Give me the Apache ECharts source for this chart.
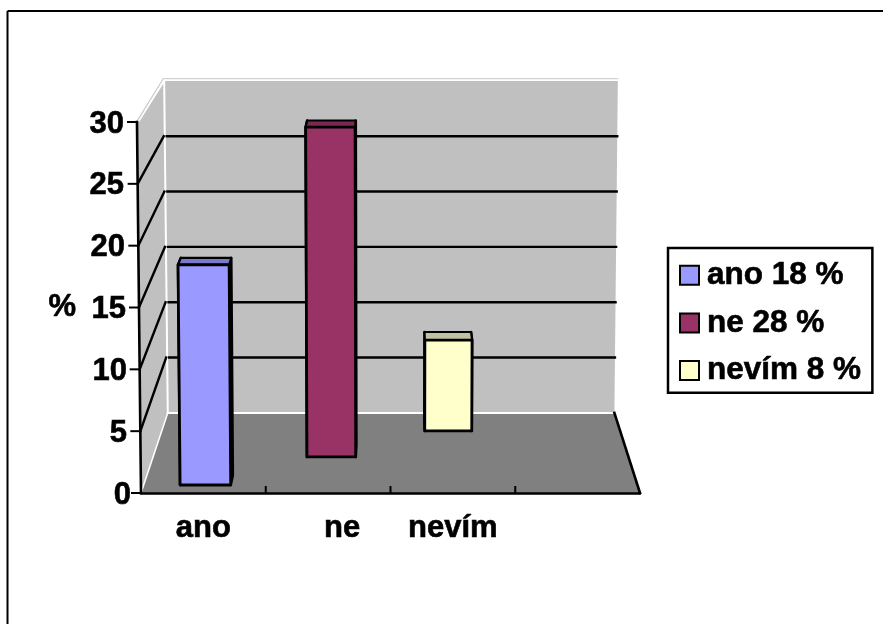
<!DOCTYPE html>
<html>
<head>
<meta charset="utf-8">
<style>html,body{margin:0;padding:0;background:#fff}#chart{width:883px;height:624px}</style>
<script src="https://cdn.jsdelivr.net/npm/echarts@6/dist/echarts.min.js"></script>
</head>
<body>
<div id="chart"></div>
<script>
// Survey answers, in percent
const categories = ['ano', 'ne', 'nevím', ''];
const values = [18, 28, 8];
const legendNames = ['ano 18 %', 'ne 28 %', 'nevím 8 %'];
const yTicks = [0, 5, 10, 15, 20, 25, 30];

const faceColors = ['#9999FF', '#993366', '#FFFFCC'];
const topColors = ['#7A7ACC', '#7A2952', '#C2C2A3'];
const sideColors = ['#3D3D66', '#5C1F3D', '#99997A'];
// Each answer stands in its own row on the floor: 0 = front edge, 1 = back wall
const rowDepth = [[0.1, 0.22], [0.45, 0.6], [0.775, 0.89]];
const barShare = 0.41;

// Camera used to project the front plane into the box
const VANISH_X = 396, VANISH_Y = -270, DEPTH_SHRINK = 0.105, TILT = 0.0158;
const FONT = '"Liberation Sans", Arial, sans-serif';
const TEXT_BASE = {
  fontFamily: FONT, fontWeight: 'bold', fontSize: 31, color: '#000',
  textBorderColor: '#000', textBorderWidth: 0.6
};

function makeProjector(api) {
  const base = api.coord([0, 0])[1];
  const span = base - api.coord([0, 30])[1];
  return function (x, v, t) {
    const y = api.coord([0, v])[1];
    const lean = 1 + TILT * (base - y) / span;
    const k = 1 - DEPTH_SHRINK * t;
    return [VANISH_X + (x - VANISH_X) * lean * k, VANISH_Y + (y - VANISH_Y) * k];
  };
}

function poly(points, fill, stroke, width) {
  return {
    type: 'polygon',
    shape: { points },
    style: { fill, stroke: stroke || null, lineWidth: width || 0, lineJoin: 'round' }
  };
}
function seg(a, b, stroke, width) {
  return {
    type: 'line',
    shape: { x1: a[0], y1: a[1], x2: b[0], y2: b[1] },
    style: { stroke, lineWidth: width, lineCap: 'square' }
  };
}

// Walls, floor, gridlines and the slanted value axis
function renderBox(params, api) {
  const p = makeProjector(api);
  const xL = api.coord([0, 0])[0] - api.size([1, 0])[0] / 2;
  const xR = xL + api.size([1, 0])[0] * categories.length;
  const kids = [];
  const fl = p(xL, 0, 0), fr = p(xR, 0, 0), bl = p(xL, 0, 1), br = p(xR, 0, 1);
  const tl = p(xL, 30, 1), tr = p(xR, 30, 1), ft = p(xL, 30, 0);

  kids.push(poly([bl, tl, tr, br], '#C0C0C0'));
  kids.push(poly([fl, ft, tl, bl], '#C0C0C0'));
  kids.push(poly([fl, bl, br, fr], '#808080'));

  // Pale edges of the box
  kids.push(seg([tl[0] - 1, tl[1] - 2], [tr[0], tr[1] - 2], '#BDBDBD', 1));
  kids.push(seg([ft[0], ft[1] - 1], [tl[0] - 1, tl[1] - 2], '#BDBDBD', 1));
  kids.push(seg([ft[0] + 2, ft[1] - 1], [tl[0] + 0.5, tl[1] - 0.5], '#FFFFFF', 1.5));
  kids.push(seg([tl[0], tl[1] - 0.5], [tr[0], tr[1] - 0.5], '#FFFFFF', 1.5));
  kids.push(seg(tl, bl, '#FFFFFF', 2));
  kids.push(seg(bl, br, '#FFFFFF', 2));
  kids.push(seg(fl, bl, '#FFFFFF', 1.5));

  yTicks.forEach(function (v) {
    const front = p(xL, v, 0), back = p(xL, v, 1), right = p(xR, v, 1);
    // outward tick on the slanted axis
    kids.push(seg([front[0] - 9, front[1]], front, '#000', 2));
    if (v > 0 && v < 30) {
      kids.push(seg(front, [back[0] - 1, back[1]], '#000', 2.4));
      kids.push(seg([back[0] + 2, back[1]], right, '#000', 2.4));
    }
  });
  kids.push(seg(ft, fl, '#000', 2.6));
  kids.push(seg(br, fr, '#000', 2.6));
  return { type: 'group', children: kids };
}

// One box-shaped column, standing in the row given by its depth range
function renderColumn(index) {
  return function (params, api) {
    const p = makeProjector(api);
    const c = api.coord([api.value(0), 0])[0];
    const half = api.size([1, 0])[0] * barShare / 2;
    const v = api.value(1);
    const t0 = rowDepth[index][0], t1 = rowDepth[index][1];
    const x0 = c - half, x1 = c + half;
    const bf0 = p(x0, 0, t0), bf1 = p(x1, 0, t0), tf0 = p(x0, v, t0), tf1 = p(x1, v, t0);
    const bb0 = p(x0, 0, t1), bb1 = p(x1, 0, t1), tb0 = p(x0, v, t1), tb1 = p(x1, v, t1);
    return {
      type: 'group',
      children: [
        poly([bf0, tf0, tb0, bb0], sideColors[index], '#000', 2.6),
        poly([bf1, tf1, tb1, bb1], sideColors[index], '#000', 2.6),
        poly([tf0, tb0, tb1, tf1], topColors[index], '#000', 2.2),
        poly([bf0, tf0, tf1, bf1], faceColors[index], '#000', 2.8)
      ]
    };
  };
}

// The value labels follow the axis slant, so each one gets its own right padding
const labelPad = { 0: 1, 5: 5, 10: 5, 15: 6, 20: 7, 25: 8, 30: 8 };
const labelRich = {};
yTicks.forEach(function (v) {
  labelRich['v' + v] = Object.assign({}, TEXT_BASE, { padding: [4, labelPad[v], 0, 0] });
});

// Nearer rows are drawn over farther ones
const columnSeries = values.map(function (val, i) {
  return {
    type: 'custom',
    name: legendNames[i],
    z: 2 + values.length - i,
    renderItem: renderColumn(i),
    encode: { x: 0, y: 1 },
    itemStyle: { color: faceColors[i], borderColor: '#000', borderWidth: 2.5 },
    data: [[i, val]]
  };
});

const chart = echarts.init(document.getElementById('chart'), null, { renderer: 'canvas' });
chart.setOption({
  animation: false,
  backgroundColor: '#fff',
  grid: { left: 141, right: 243, top: 122, bottom: 131, containLabel: false },
  xAxis: {
    type: 'category',
    z: 10,
    data: categories.map(function (c, i) {
      return i === 1 ? { value: c, textStyle: { padding: [0, 0, 0, 28] } } : c;
    }),
    boundaryGap: true,
    axisLine: { show: true, lineStyle: { color: '#000', width: 2.6 } },
    axisTick: { show: true, inside: false, length: 0, lineStyle: { color: '#000', width: 2 } },
    axisLabel: Object.assign({ interval: 0, margin: 20 }, TEXT_BASE),
    splitLine: { show: false }
  },
  yAxis: {
    type: 'value',
    min: 0,
    max: 30,
    interval: 5,
    name: '%',
    nameLocation: 'middle',
    nameRotate: 0,
    nameGap: 65,
    nameTextStyle: Object.assign({ padding: [6, 0, 0, 0] }, TEXT_BASE),
    axisLine: { show: false },
    axisTick: { show: false },
    splitLine: { show: false },
    axisLabel: {
      margin: 9,
      formatter: function (v) { return '{v' + v + '|' + v + '}'; },
      rich: labelRich
    }
  },
  legend: {
    orient: 'vertical',
    left: 668,
    top: 248,
    padding: [11, 11, 6, 11],
    itemWidth: 19,
    itemHeight: 19,
    itemGap: 15,
    icon: 'rect',
    borderColor: '#000',
    borderWidth: 2.5,
    backgroundColor: '#fff',
    selectedMode: false,
    data: legendNames,
    textStyle: Object.assign({}, TEXT_BASE, { fontSize: 31.5, padding: [0, 0, 0, 3] })
  },
  graphic: [
    { type: 'line', shape: { x1: 7.5, y1: 11, x2: 883, y2: 11 }, style: { stroke: '#000', lineWidth: 2 } },
    { type: 'line', shape: { x1: 7.5, y1: 11, x2: 7.5, y2: 624 }, style: { stroke: '#000', lineWidth: 2 } }
  ],
  series: [
    {
      type: 'custom',
      name: 'box',
      z: 1,
      silent: true,
      renderItem: renderBox,
      encode: { x: 0, y: 1 },
      data: [[0, 0]]
    },
    // Short inward ticks along the front edge of the floor
    {
      type: 'custom',
      name: 'floor ticks',
      z: 9,
      silent: true,
      renderItem: function (params, api) {
        const band = api.size([1, 0])[0];
        const at = api.coord([api.value(0), 0]);
        return seg([at[0] + band / 2, at[1]], [at[0] + band / 2, at[1] - 6], '#000', 2);
      },
      encode: { x: 0, y: 1 },
      data: [[0, 0], [1, 0], [2, 0]]
    }
  ].concat(columnSeries)
});
</script>
</body>
</html>
